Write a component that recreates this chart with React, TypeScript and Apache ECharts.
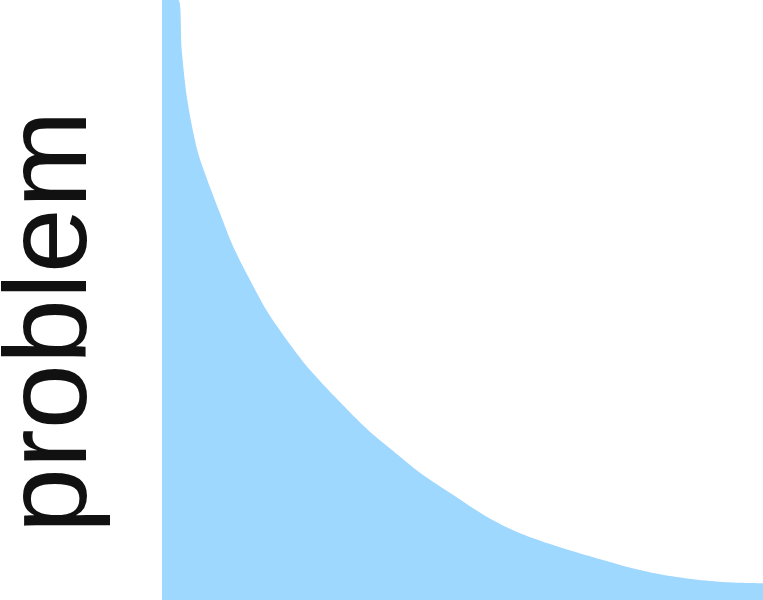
import React, { useEffect, useRef } from 'react';
import * as echarts from 'echarts';

// curve: x runs 0..100 across the plot, y is the problem level 0..100
const effort = [
    0, 2.71, 3.28, 4.21, 5.87, 7.54, 9.65, 11.86, 14.64, 17.69, 21.58, 24.63, 29.28,
    34.28, 38.27, 42.93, 48.47, 54.03, 59.57, 66.22, 71.76, 77.32, 82.86, 88.4, 93.96, 100,
];
const problem = [
    100, 100, 91.67, 83.33, 75, 70, 64.45, 58.88, 53.33, 47.78, 42.22, 38.33, 33.33,
    28.33, 25, 21.22, 17.5, 13.88, 11.12, 8.78, 7.12, 5.55, 4.28, 3.45, 2.95, 2.78,
];
const yName = 'problem';

const App: React.FC = () => {
    const chartRef = useRef<HTMLDivElement>(null);

    useEffect(() => {
        if (!chartRef.current) return;
        const chart = echarts.init(chartRef.current, undefined, { renderer: 'svg' });

        const option: echarts.EChartsOption = {
            animation: false,
            grid: { left: 162, right: 0, top: 0, bottom: 0 },
            xAxis: {
                type: 'value',
                min: 0,
                max: 100,
                show: false,
            },
            yAxis: {
                type: 'value',
                min: 0,
                max: 100,
                show: false,
            },
            graphic: [
                {
                    type: 'text',
                    x: 45,
                    y: 322,
                    rotation: Math.PI / 2,
                    style: {
                        text: yName,
                        fontFamily: 'Liberation Sans',
                        fontSize: 117,
                        fill: '#111111',
                        align: 'center',
                        verticalAlign: 'middle',
                    },
                },
            ],
            series: [
                {
                    type: 'line',
                    data: effort.map((x, i) => [x, problem[i]]),
                    smooth: 0.3,
                    showSymbol: false,
                    lineStyle: { width: 0 },
                    areaStyle: { color: '#9fd8ff', opacity: 1 },
                },
            ],
        };

        chart.setOption(option);
        return () => chart.dispose();
    }, []);

    return (
        <div
            ref={chartRef}
            style={{ position: 'fixed', left: 0, top: 0, width: 763, height: 600, background: '#ffffff' }}
        />
    );
};

export default App;
